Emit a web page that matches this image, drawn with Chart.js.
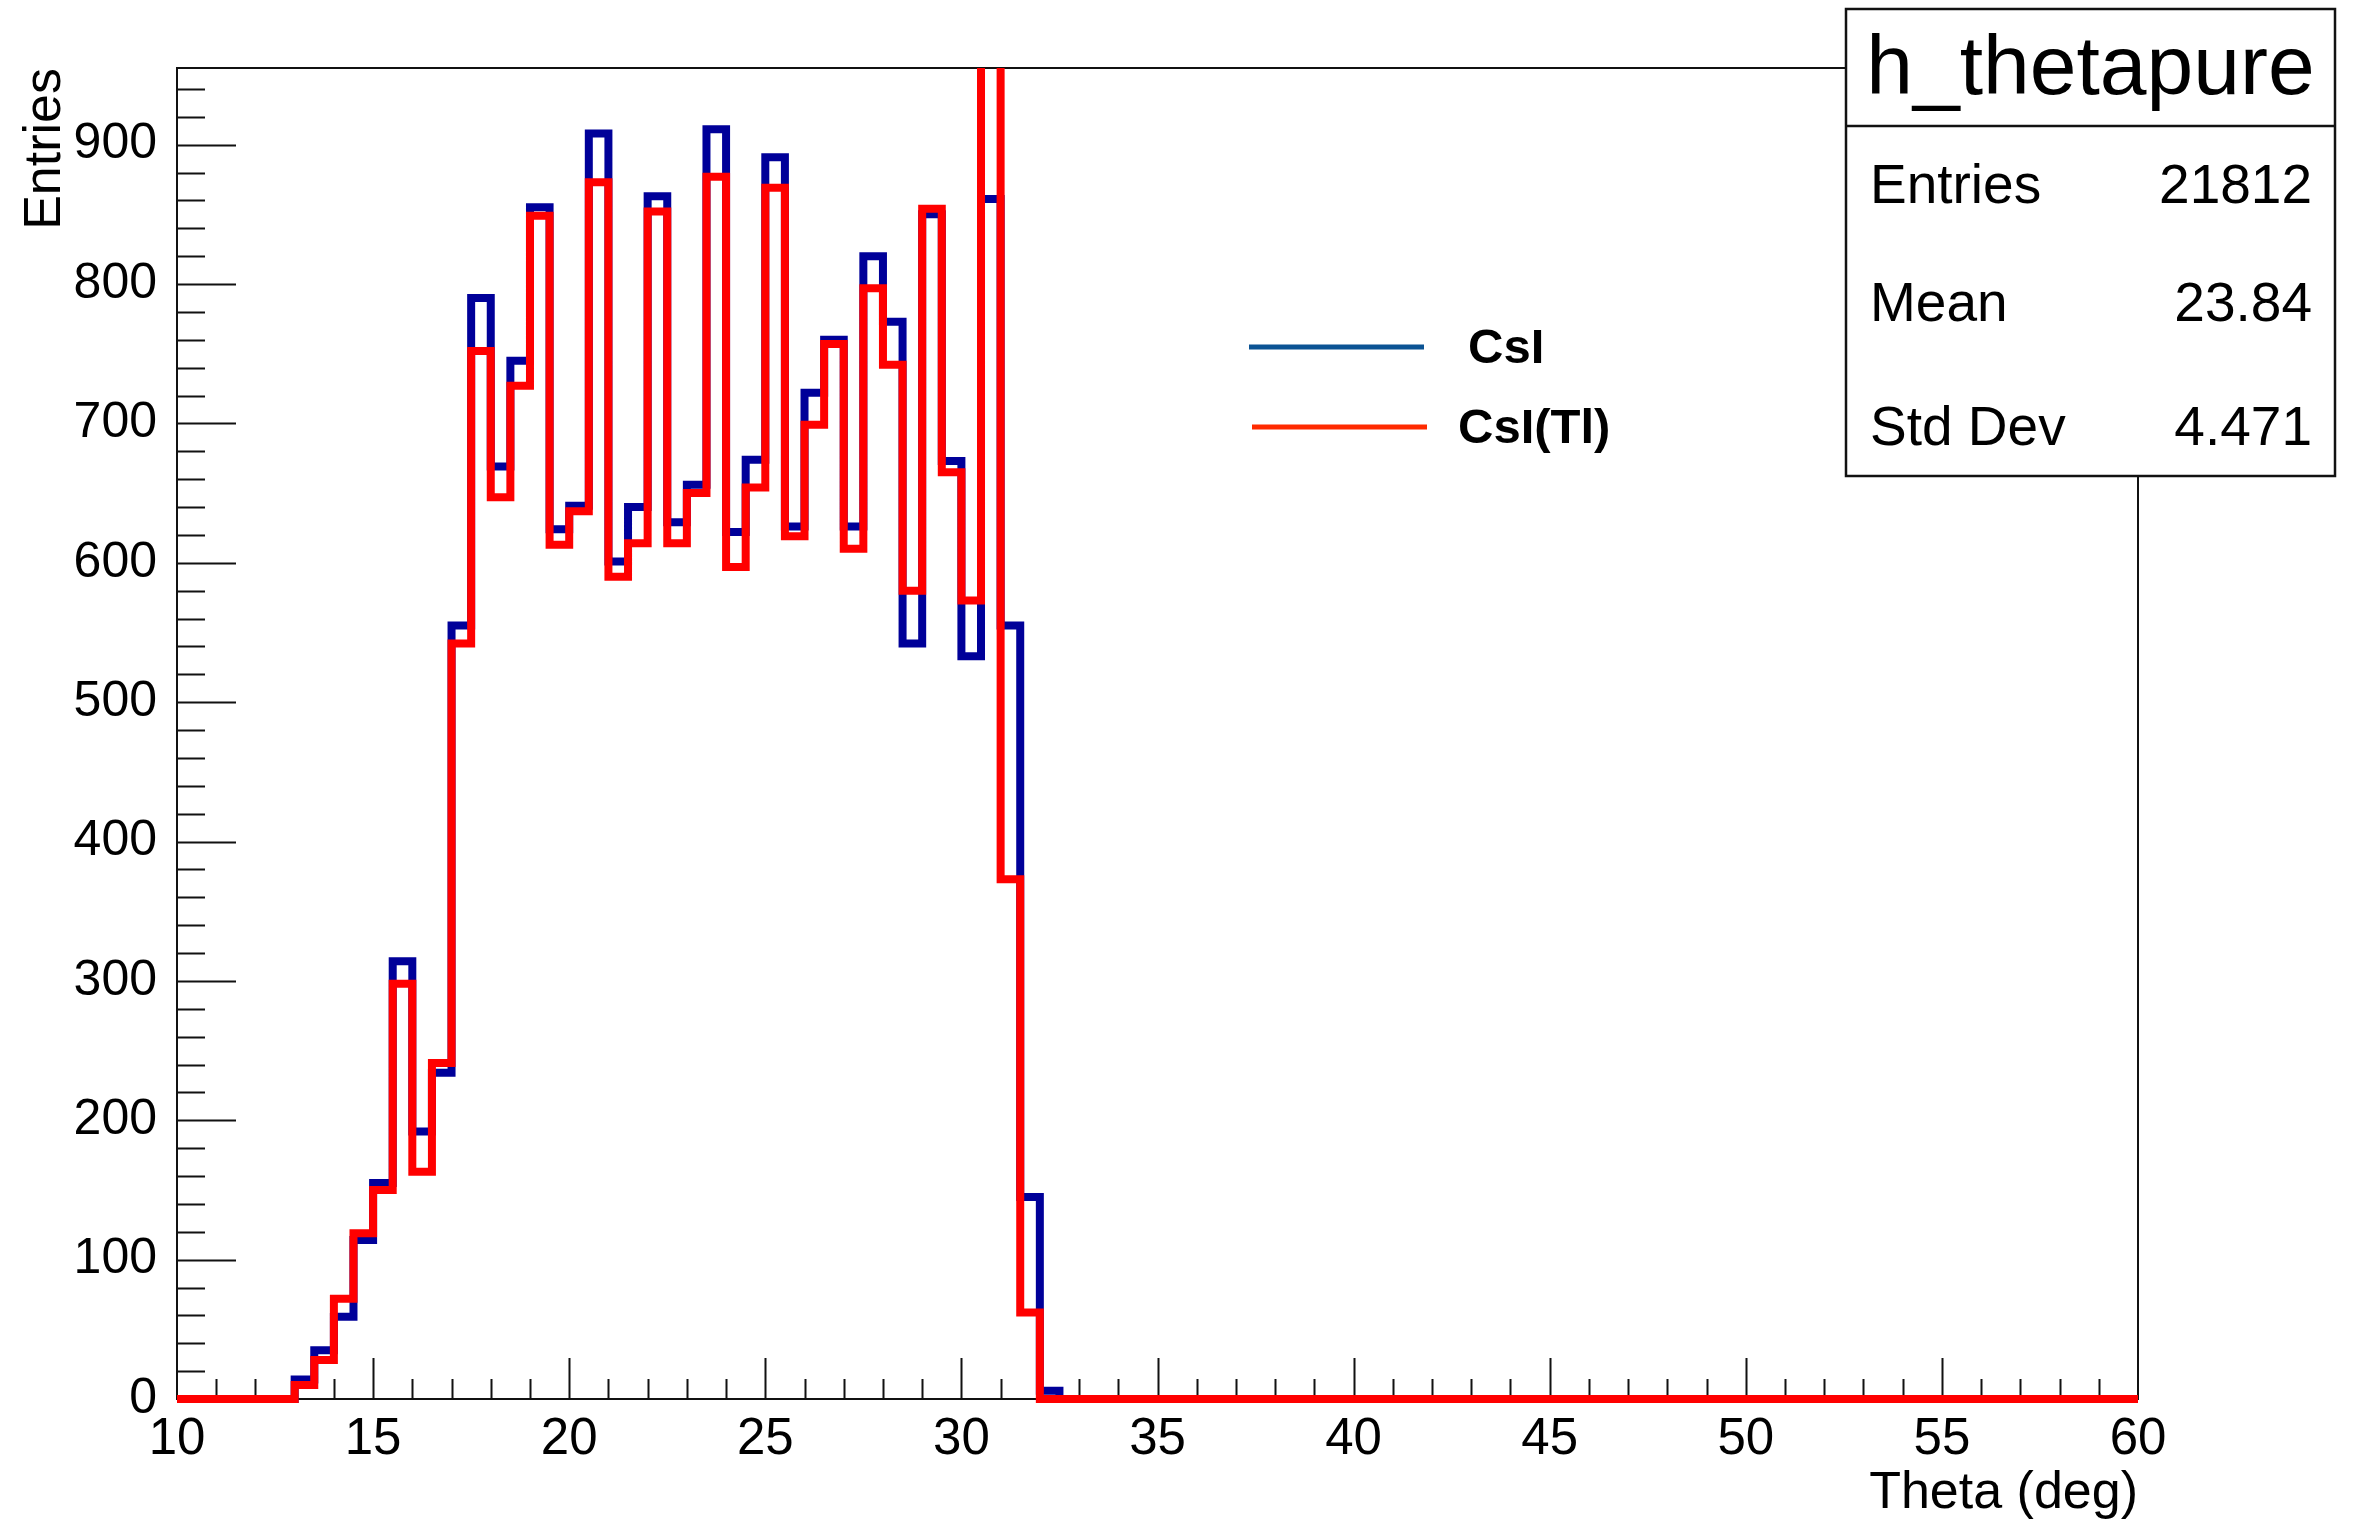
<!DOCTYPE html>
<html>
<head>
<meta charset="utf-8">
<title>h_thetapure</title>
<script src="https://cdn.jsdelivr.net/npm/chart.js@4.4.1/dist/chart.umd.min.js"></script>
<style>
  html, body { margin: 0; padding: 0; background: #fff; }
  #wrap { width: 2356px; height: 1520px; position: relative; }
</style>
</head>
<body>
<div id="wrap"><canvas id="thetaChart"></canvas></div>
<script>
// 分箱: 10 - 60 deg, 每箱 0.5 deg, 共 100 箱
const binLow = 10;
const binHigh = 60;
const binWidth = 0.5;

// CsI 每箱计数 (h_thetapure)
const csiCounts = [
  0, 0, 0, 0, 0, 0, 14, 35, 59, 114,
  155, 314, 192, 234, 555, 790, 669, 745, 855, 624,
  641, 908, 601, 640, 863, 629, 656, 911, 622, 674,
  891, 626, 722, 760, 626, 820, 773, 542, 850, 673,
  533, 861, 555, 145, 6, 0, 0, 0, 0, 0,
  0, 0, 0, 0, 0, 0, 0, 0, 0, 0,
  0, 0, 0, 0, 0, 0, 0, 0, 0, 0,
  0, 0, 0, 0, 0, 0, 0, 0, 0, 0,
  0, 0, 0, 0, 0, 0, 0, 0, 0, 0,
  0, 0, 0, 0, 0, 0, 0, 0, 0, 0
];

// CsI(Tl) 每箱计数, 30.5 deg 那一箱超出纵轴范围
const csiTlCounts = [
  0, 0, 0, 0, 0, 0, 10, 28, 72, 119,
  150, 298, 163, 241, 542, 752, 647, 727, 849, 613,
  637, 873, 590, 614, 852, 614, 650, 877, 597, 654,
  869, 619, 699, 757, 610, 797, 742, 580, 854, 665,
  573, 1440, 373, 62, 0, 0, 0, 0, 0, 0,
  0, 0, 0, 0, 0, 0, 0, 0, 0, 0,
  0, 0, 0, 0, 0, 0, 0, 0, 0, 0,
  0, 0, 0, 0, 0, 0, 0, 0, 0, 0,
  0, 0, 0, 0, 0, 0, 0, 0, 0, 0,
  0, 0, 0, 0, 0, 0, 0, 0, 0, 0
];

// 统计框内容
const statTitle = 'h_thetapure';
const statNames = ['Entries', 'Mean', 'Std Dev'];
const statValues = ['21812', '23.84', '4.471'];

const legendLabels = ['CsI', 'CsI(Tl)'];
const yMax = 955;

const FONT = '"Liberation Sans", Arial, Helvetica, sans-serif';

// 把计数转换成阶梯折线的点 (每箱左边缘一个点, 最后补右边缘)
function toSteps(counts) {
  const pts = counts.map((c, i) => ({ x: binLow + i * binWidth, y: c }));
  pts.push({ x: binHigh, y: counts[counts.length - 1] });
  return pts;
}

// 坐标轴刻度 (朝内) 和外框
const framePlugin = {
  id: 'rootFrame',
  beforeDatasetsDraw(chart) {
    const { ctx, chartArea: a, scales } = chart;
    const xs = scales.x, ys = scales.y;
    ctx.save();
    ctx.strokeStyle = '#111';
    ctx.lineWidth = 2;
    ctx.beginPath();
    // 纵轴: 大刻度 100, 小刻度 20
    for (let v = 20; v < yMax; v += 20) {
      const y = Math.round(ys.getPixelForValue(v)) + 0.5;
      const len = v % 100 === 0 ? 59 : 28;
      ctx.moveTo(a.left, y);
      ctx.lineTo(a.left + len, y);
    }
    // 横轴: 大刻度 5, 小刻度 1
    for (let d = binLow + 1; d < binHigh; d += 1) {
      const x = Math.round(xs.getPixelForValue(d)) + 0.5;
      const len = d % 5 === 0 ? 41 : 20;
      ctx.moveTo(x, a.bottom);
      ctx.lineTo(x, a.bottom - len);
    }
    // 上边框和右边框
    ctx.moveTo(a.left, a.top);
    ctx.lineTo(a.right, a.top);
    ctx.lineTo(a.right, a.bottom);
    ctx.stroke();

    // 轴标题
    ctx.fillStyle = '#000';
    ctx.font = '52px ' + FONT;
    ctx.textAlign = 'right';
    ctx.textBaseline = 'alphabetic';
    ctx.fillText('Theta (deg)', a.right, 1508);
    ctx.save();
    ctx.translate(60, a.top);
    ctx.rotate(-Math.PI / 2);
    ctx.fillText('Entries', 0, 0);
    ctx.restore();
    ctx.restore();
  },
  afterDraw(chart) {
    const { ctx } = chart;
    ctx.save();

    // 图例 (无边框)
    const legendColors = ['#0b5394', '#ff2a00'];
    const legendY = [347, 427];
    const lineX = [[1249, 1424], [1252, 1427]];
    const textX = [1468, 1458];
    ctx.lineWidth = 5;
    ctx.font = 'bold 49px ' + FONT;
    ctx.fillStyle = '#000';
    ctx.textAlign = 'left';
    ctx.textBaseline = 'alphabetic';
    legendLabels.forEach((label, i) => {
      ctx.strokeStyle = legendColors[i];
      ctx.beginPath();
      ctx.moveTo(lineX[i][0], legendY[i]);
      ctx.lineTo(lineX[i][1], legendY[i]);
      ctx.stroke();
      ctx.fillText(label, textX[i], legendY[i] + 16);
    });

    // 统计框
    const bx = 1846, by = 9, bw = 489, bh = 467, titleH = 117;
    ctx.fillStyle = '#fff';
    ctx.fillRect(bx, by, bw, bh);
    ctx.strokeStyle = '#111';
    ctx.lineWidth = 2.5;
    ctx.strokeRect(bx, by, bw, bh);
    ctx.beginPath();
    ctx.moveTo(bx, by + titleH);
    ctx.lineTo(bx + bw, by + titleH);
    ctx.stroke();

    ctx.fillStyle = '#000';
    ctx.font = '84px ' + FONT;
    ctx.textAlign = 'center';
    ctx.fillText(statTitle, bx + bw / 2, 94);

    ctx.font = '55px ' + FONT;
    const rowBase = [203, 321, 445];
    statNames.forEach((name, i) => {
      ctx.textAlign = 'left';
      ctx.fillText(name, 1870, rowBase[i]);
      ctx.textAlign = 'right';
      ctx.fillText(statValues[i], 2312, rowBase[i]);
    });
    ctx.restore();
  }
};

const ctx = document.getElementById('thetaChart').getContext('2d');

new Chart(ctx, {
  type: 'line',
  data: {
    datasets: [
      {
        label: legendLabels[1],
        data: toSteps(csiTlCounts),
        borderColor: '#ff0000',
        borderWidth: 8,
        order: 0
      },
      {
        label: legendLabels[0],
        data: toSteps(csiCounts),
        borderColor: '#000099',
        borderWidth: 8,
        order: 1
      }
    ]
  },
  options: {
    responsive: true,
    maintainAspectRatio: false,
    animation: false,
    events: [],
    layout: {
      padding: { top: 68, right: 218, left: 0, bottom: 0 }
    },
    elements: {
      point: { radius: 0 },
      line: {
        stepped: 'before',
        tension: 0,
        fill: false,
        borderJoinStyle: 'miter',
        borderCapStyle: 'butt'
      }
    },
    datasets: {
      line: {
        clip: { left: 6, right: 6, top: 0, bottom: 6 }
      }
    },
    scales: {
      x: {
        type: 'linear',
        min: binLow,
        max: binHigh,
        afterFit: (s) => { s.height = 121; },
        grid: { display: false },
        border: { display: true, color: '#111', width: 2 },
        ticks: {
          stepSize: 5,
          autoSkip: false,
          maxRotation: 0,
          padding: 2,
          color: '#000',
          font: { family: FONT, size: 51 }
        }
      },
      y: {
        min: 0,
        max: yMax,
        afterFit: (s) => { s.width = 177; },
        grid: { display: false },
        border: { display: true, color: '#111', width: 2 },
        ticks: {
          stepSize: 100,
          includeBounds: false,
          padding: 12,
          color: '#000',
          font: { family: FONT, size: 50 }
        }
      }
    },
    plugins: {
      legend: { display: false },
      tooltip: { enabled: false },
      title: { display: false }
    }
  },
  plugins: [framePlugin]
});
</script>
</body>
</html>
